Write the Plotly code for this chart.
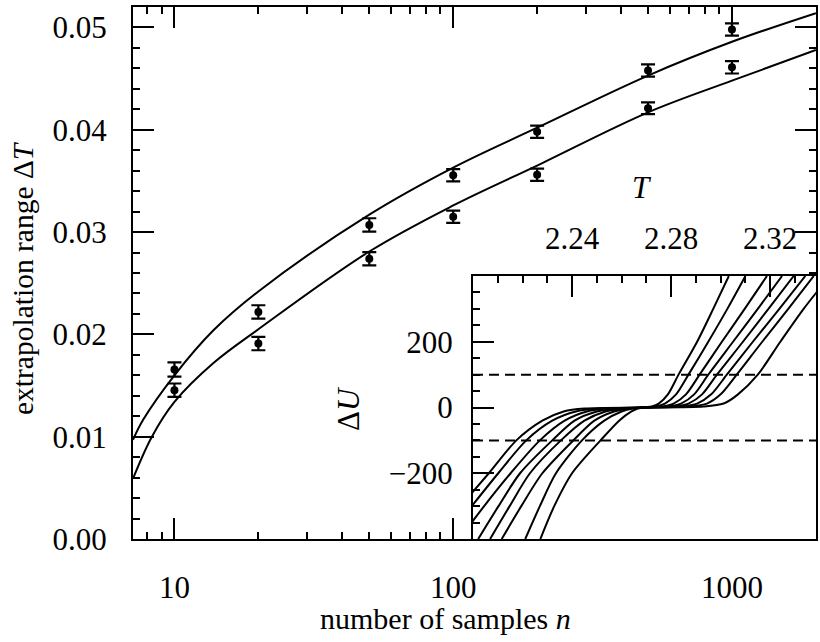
import plotly.graph_objects as go

# ---------------- main panel data ----------------
n_samples = [10, 20, 50, 100, 200, 500, 1000]
dT_upper = [0.01657, 0.0222, 0.0307, 0.03555, 0.0398, 0.0458, 0.0498]
err_upper = [0.0007, 0.00065, 0.00065, 0.0006, 0.0006, 0.0006, 0.0006]
dT_lower = [0.01455, 0.0191, 0.0274, 0.0315, 0.0356, 0.0421, 0.0461]
err_lower = [0.00065, 0.00065, 0.00065, 0.0006, 0.0006, 0.00057, 0.0006]

fit_upper_n = [7.1, 7.74, 10, 13.8, 20, 50, 100, 200, 500, 1000, 2000]
fit_upper = [0.0097, 0.0117, 0.0160, 0.0204, 0.0242, 0.0317, 0.0363, 0.0402, 0.0453, 0.0486, 0.0514]
fit_lower_n = [7.1, 8.3, 10, 13.8, 20, 50, 100, 200, 500, 1000, 2000]
fit_lower = [0.0059, 0.0100, 0.0134, 0.0172, 0.0205, 0.0281, 0.0326, 0.0365, 0.0417, 0.0448, 0.0478]

x_tick_vals = [10, 100, 1000]
x_tick_text = ["10", "100", "1000"]
x_minor_vals = [7, 8, 9, 20, 30, 40, 50, 60, 70, 80, 90, 200, 300, 400, 500, 600, 700, 800, 900, 2000]
y_tick_vals = [0.0, 0.01, 0.02, 0.03, 0.04, 0.05]
y_tick_text = ["0.00", "0.01", "0.02", "0.03", "0.04", "0.05"]

# ---------------- inset data ----------------
dU_levels = [-400, -300, -200, -100, -40, -12, -3, 0, 3, 12, 40, 100, 200, 300, 400]
T_c1 = [2.2272, 2.2328, 2.2400, 2.2515, 2.2590, 2.2640, 2.2665, 2.2689, 2.2722, 2.2750, 2.2787, 2.2830, 2.2905, 2.2970, 2.3033]
T_c2 = [2.2211, 2.2270, 2.2335, 2.2440, 2.2530, 2.2600, 2.2645, 2.2689, 2.2740, 2.2775, 2.2820, 2.2870, 2.2950, 2.3027, 2.3100]
T_c3 = [2.2116, 2.2195, 2.2280, 2.2405, 2.2490, 2.2570, 2.2630, 2.2689, 2.2765, 2.2810, 2.2860, 2.2915, 2.3005, 2.3097, 2.3187]
T_c4 = [2.2069, 2.2148, 2.2230, 2.2355, 2.2450, 2.2535, 2.2610, 2.2689, 2.2790, 2.2840, 2.2893, 2.2950, 2.3050, 2.3150, 2.3248]
T_c5 = [2.2021, 2.2103, 2.2190, 2.2320, 2.2410, 2.2500, 2.2590, 2.2689, 2.2815, 2.2870, 2.2925, 2.2985, 2.3090, 2.3193, 2.3295]
T_c6 = [2.1945, 2.2045, 2.2152, 2.2270, 2.2370, 2.2460, 2.2560, 2.2689, 2.2840, 2.2905, 2.2962, 2.3025, 2.3130, 2.3237, 2.3342]
T_c7 = [2.1890, 2.1995, 2.2102, 2.2215, 2.2320, 2.2415, 2.2510, 2.2689, 2.2870, 2.2945, 2.3000, 2.3065, 2.3168, 2.3273, 2.3376]
T_c8 = [2.1840, 2.1950, 2.2064, 2.2175, 2.2280, 2.2366, 2.2450, 2.2689, 2.2930, 2.3012, 2.3070, 2.3150, 2.3241, 2.3335, 2.3440]
inset_curves = [T_c1, T_c2, T_c3, T_c4, T_c5, T_c6, T_c7, T_c8]

dash_T = [2.2, 2.3385]
dash_levels = [100, -100]

inset_x_ticks = [2.24, 2.28, 2.32]
inset_x_text = ["2.24", "2.28", "2.32"]
inset_y_ticks = [-200, 0, 200]
inset_y_text = ["\u2212200", "0", "200"]

FONT = "Liberation Serif"
W, H = 820, 642
L, R, T, B = 133, 4, 7, 103
PW, PH = W - L - R, H - T - B


def px(x, y):
    return (x - L) / PW, (H - B - y) / PH


fig = go.Figure()

line_style = dict(color="black", width=2)
for xs, ys in [(fit_upper_n, fit_upper), (fit_lower_n, fit_lower)]:
    fig.add_trace(go.Scatter(x=xs, y=ys, mode="lines", line=dict(line_style, shape="spline"),
                             xaxis="x", yaxis="y", showlegend=False, hoverinfo="skip"))

for ys, es in [(dT_upper, err_upper), (dT_lower, err_lower)]:
    fig.add_trace(go.Scatter(x=n_samples, y=ys, mode="markers",
                             marker=dict(color="black", size=8),
                             error_y=dict(type="data", array=es, visible=True,
                                          color="black", thickness=2.2, width=7),
                             xaxis="x", yaxis="y", showlegend=False))

for lvl in dash_levels:
    fig.add_trace(go.Scatter(x=dash_T, y=[lvl, lvl], mode="lines",
                             line=dict(color="black", width=2, dash="10px,6px"),
                             xaxis="x2", yaxis="y2", showlegend=False, hoverinfo="skip"))

for Ts in inset_curves:
    fig.add_trace(go.Scatter(x=Ts, y=dU_levels, mode="lines",
                             line=dict(color="black", width=2, shape="spline", smoothing=0.8),
                             xaxis="x2", yaxis="y2", showlegend=False, hoverinfo="skip"))

tickfont = dict(family=FONT, size=31, color="black")
common = dict(showgrid=False, zeroline=False, showline=True, linecolor="black",
              linewidth=2, ticks="inside", tickcolor="black", tickwidth=2,
              tickfont=tickfont, automargin=False)

inset_x0 = (473 - L) / PW
inset_y1 = (H - B - 276) / PH

fig.update_layout(
    width=W, height=H, autosize=False,
    margin=dict(l=L, r=R, t=T, b=B, pad=0),
    paper_bgcolor="white", plot_bgcolor="white",
    xaxis=dict(common, type="log", range=[0.8513, 3.3015], domain=[0, 1], anchor="y",
               tickmode="array", tickvals=x_tick_vals, ticktext=x_tick_text,
               ticklen=21, mirror="ticks", ticklabelstandoff=20,
               minor=dict(tickmode="array", tickvals=x_minor_vals, ticklen=7,
                          tickwidth=2, tickcolor="black", ticks="inside")),
    yaxis=dict(common, range=[0, 0.052], domain=[0, 1], anchor="x",
               tickmode="array", tickvals=y_tick_vals, ticktext=y_tick_text,
               ticklen=21, mirror="ticks", ticklabelstandoff=18,
               minor=dict(dtick=0.002, tick0=0, ticklen=7, tickwidth=2,
                          tickcolor="black", ticks="inside")),
    xaxis2=dict(common, range=[2.2, 2.3385], domain=[inset_x0, 1], anchor="y2",
                side="top", tickmode="array", tickvals=inset_x_ticks, ticktext=inset_x_text,
                ticklen=21, mirror=False, ticklabelstandoff=13,
                minor=dict(dtick=0.01, tick0=2.2, ticklen=7, tickwidth=2,
                           tickcolor="black", ticks="inside")),
    yaxis2=dict(common, range=[-400, 400], domain=[0, inset_y1], anchor="x2",
                side="left", tickmode="array", tickvals=inset_y_ticks, ticktext=inset_y_text,
                ticklen=21, mirror=False, ticklabelstandoff=12,
                minor=dict(dtick=50, tick0=0, ticklen=7, tickwidth=2,
                           tickcolor="black", ticks="inside")),
)

annots = [
    (23, 278, "extrapolation range \u0394<i>T</i>", -90, 29.5),
    (445, 618, "number of samples <i>n</i>", 0, 30),
    (642, 187, "<i>T</i>", 0, 31),
    (348, 409, "\u0394<i>U</i>", -90, 31),
]
for x, y, text, ang, sz in annots:
    ax, ay = px(x, y)
    fig.add_annotation(x=ax, y=ay, xref="paper", yref="paper", text=text, showarrow=False,
                       textangle=ang, xanchor="center", yanchor="middle",
                       font=dict(family=FONT, size=sz, color="black"))

fig.write_html(
    "out.html",
    config={"responsive": False, "displayModeBar": False},
    post_script="document.documentElement.style.margin='0';document.body.style.margin='0';"
                "document.body.style.overflow='hidden';",
)
